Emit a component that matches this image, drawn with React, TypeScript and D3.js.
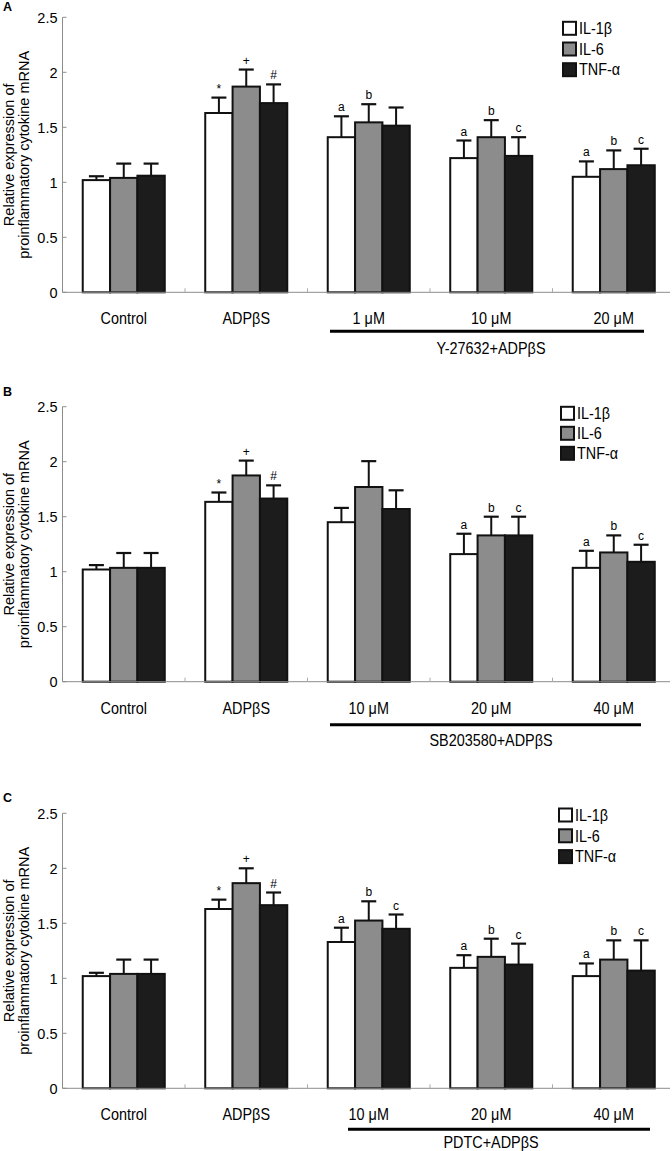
import React from 'react';
import * as d3 from 'd3';

// shared
const series = ['IL-1β', 'IL-6', 'TNF-α'];
const seriesFill = ['#ffffff', '#8c8c8c', '#1c1c1c'];
const yTicks = [0, 0.5, 1, 1.5, 2, 2.5];

// panel A: Y-27632
const catsA = ['Control', 'ADPβS', '1 μM', '10 μM', '20 μM'];
const meanA = [
  [1.02, 1.63, 1.41, 1.22, 1.05],
  [1.04, 1.87, 1.545, 1.41, 1.12],
  [1.06, 1.72, 1.515, 1.24, 1.155],
];
const errA = [
  [0.035, 0.14, 0.19, 0.16, 0.14],
  [0.13, 0.155, 0.165, 0.155, 0.17],
  [0.11, 0.17, 0.165, 0.17, 0.15],
];
const marksA = [['', '*', 'a', 'a', 'a'], ['', '+', 'b', 'b', 'b'], ['', '#', '', 'c', 'c']];

// panel B: SB203580
const catsB = ['Control', 'ADPβS', '10 μM', '20 μM', '40 μM'];
const meanB = [
  [1.02, 1.635, 1.45, 1.16, 1.035],
  [1.035, 1.875, 1.77, 1.33, 1.175],
  [1.035, 1.665, 1.57, 1.33, 1.09],
];
const errB = [
  [0.04, 0.085, 0.13, 0.185, 0.155],
  [0.135, 0.135, 0.235, 0.17, 0.155],
  [0.135, 0.12, 0.17, 0.17, 0.155],
];
const marksB = [['', '*', '', 'a', 'a'], ['', '+', '', 'b', 'b'], ['', '#', '', 'c', 'c']];

// panel C: PDTC
const catsC = ['Control', 'ADPβS', '10 μM', '20 μM', '40 μM'];
const meanC = [
  [1.02, 1.63, 1.33, 1.095, 1.02],
  [1.04, 1.865, 1.525, 1.195, 1.17],
  [1.04, 1.665, 1.45, 1.125, 1.07],
];
const errC = [
  [0.03, 0.085, 0.13, 0.115, 0.115],
  [0.13, 0.135, 0.175, 0.165, 0.175],
  [0.13, 0.115, 0.13, 0.19, 0.275],
];
const marksC = [['', '*', 'a', 'a', 'a'], ['', '+', 'b', 'b', 'b'], ['', '#', 'c', 'c', 'c']];

const FONT = '"Liberation Sans", Arial, sans-serif';

// slightly condensed label text, like the narrow helvetica of the original
const Narrow = ({ x, y, anchor = 'start', dy, children }: any) => (
  <text transform={`translate(${x},${y}) scale(0.9,1)`} textAnchor={anchor} dy={dy} fontSize={16}>
    {children}
  </text>
);

type PanelProps = {
  letter: string;
  cats: string[];
  mean: number[][];
  err: number[][];
  marks: string[][];
  group: string;
  top: number;
  letterY: number;
  legendX: number;
  legendY: number;
  legendStep: number;
  bracket: [number, number];
  bracketDy: number;
  labelDy: number;
};

const Panel = (p: PanelProps) => {
  const h = 275;
  const y = d3.scaleLinear().domain([0, 2.5]).range([p.top + h, p.top]);
  const x = d3.scaleBand().domain(p.cats).range([62.5, 675]);
  const xi = d3.scaleBand().domain(series).range([0, x.bandwidth()]).paddingOuter(0.74);
  const y0 = y(0);
  const midY = (y(0) + y(2.5)) / 2;

  return (
    <g fontFamily={FONT}>
      <text x={3} y={p.letterY} fontSize={12.5} fontWeight="bold">{p.letter}</text>

      {/* y title */}
      <text transform={`translate(13.5,${midY}) rotate(-90)`} textAnchor="middle" fontSize={14.5}>
        Relative expression of
      </text>
      <text transform={`translate(28.5,${midY}) rotate(-90)`} textAnchor="middle" fontSize={14.5}>
        proinflammatory cytokine mRNA
      </text>

      {/* bars */}
      {series.map((s, si) =>
        p.cats.map((c, ci) => {
          const bx = (x(c) as number) + (xi(s) as number);
          const bw = xi.bandwidth();
          const v = p.mean[si][ci];
          const cap = y(v + p.err[si][ci]);
          const cx = bx + bw / 2;
          return (
            <g key={s + c}>
              <line x1={cx} x2={cx} y1={y(v)} y2={cap} stroke="#111" strokeWidth={2} />
              <line x1={cx - 7.5} x2={cx + 7.5} y1={cap} y2={cap} stroke="#111" strokeWidth={2.2} />
              <rect x={bx} y={y(v)} width={bw} height={y0 - y(v)} fill={seriesFill[si]} stroke="#111" strokeWidth={2} />
              {p.marks[si][ci] && (
                <text x={cx} y={cap - 5} textAnchor="middle" fontSize={12}>{p.marks[si][ci]}</text>
              )}
            </g>
          );
        })
      )}

      {/* axes */}
      <line x1={62.5} x2={62.5} y1={y(2.5)} y2={y0} stroke="#8c8c8c" strokeWidth={1} />
      <line x1={62.5} x2={670} y1={y0} y2={y0} stroke="#8c8c8c" strokeWidth={1} />
      {yTicks.map(t => (
        <g key={t}>
          <line x1={62.5} x2={66.5} y1={y(t)} y2={y(t)} stroke="#8c8c8c" />
          <text x={57.5} y={y(t)} dy="0.36em" textAnchor="end" fontSize={14.5}>{t}</text>
        </g>
      ))}
      {p.cats.slice(1).map(c => (
        <line key={c} x1={x(c)} x2={x(c)} y1={y0} y2={y0 - 4} stroke="#aaa" />
      ))}
      {p.cats.map(c => (
        <Narrow key={c} x={(x(c) as number) + x.bandwidth() / 2} y={y0 + 32} anchor="middle">{c}</Narrow>
      ))}

      {/* treatment bracket */}
      <line x1={p.bracket[0]} x2={p.bracket[1]} y1={y0 + p.bracketDy} y2={y0 + p.bracketDy} stroke="#000" strokeWidth={3} />
      <Narrow x={491} y={y0 + p.labelDy} anchor="middle">{p.group}</Narrow>

      {/* legend */}
      {series.map((s, i) => {
        const cy = p.legendY + i * p.legendStep;
        return (
          <g key={s}>
            <rect x={p.legendX} y={cy - 6.5} width={13} height={13} fill={seriesFill[i]} stroke="#111" strokeWidth={2} />
            <Narrow x={p.legendX + 16} y={cy} dy="0.36em">{s}</Narrow>
          </g>
        );
      })}
    </g>
  );
};

export default function App() {
  return (
    <div style={{ position: 'absolute', left: 0, top: 0 }}>
      <svg width={672} height={1151} style={{ display: 'block', background: '#fff' }}>
        <Panel letter="A" cats={catsA} mean={meanA} err={errA} marks={marksA} group="Y-27632+ADPβS"
          top={17.3} letterY={11} legendX={563} legendY={28.3} legendStep={20.7}
          bracket={[330, 644]} bracketDy={39} labelDy={62} />
        <Panel letter="B" cats={catsB} mean={meanB} err={errB} marks={marksB} group="SB203580+ADPβS"
          top={406.7} letterY={396} legendX={561} legendY={413.3} legendStep={20}
          bracket={[330, 641]} bracketDy={43} labelDy={64} />
        <Panel letter="C" cats={catsC} mean={meanC} err={errC} marks={marksC} group="PDTC+ADPβS"
          top={813.3} letterY={802} legendX={559} legendY={815} legendStep={20.8}
          bracket={[348, 650]} bracketDy={41} labelDy={60} />
      </svg>
    </div>
  );
}
